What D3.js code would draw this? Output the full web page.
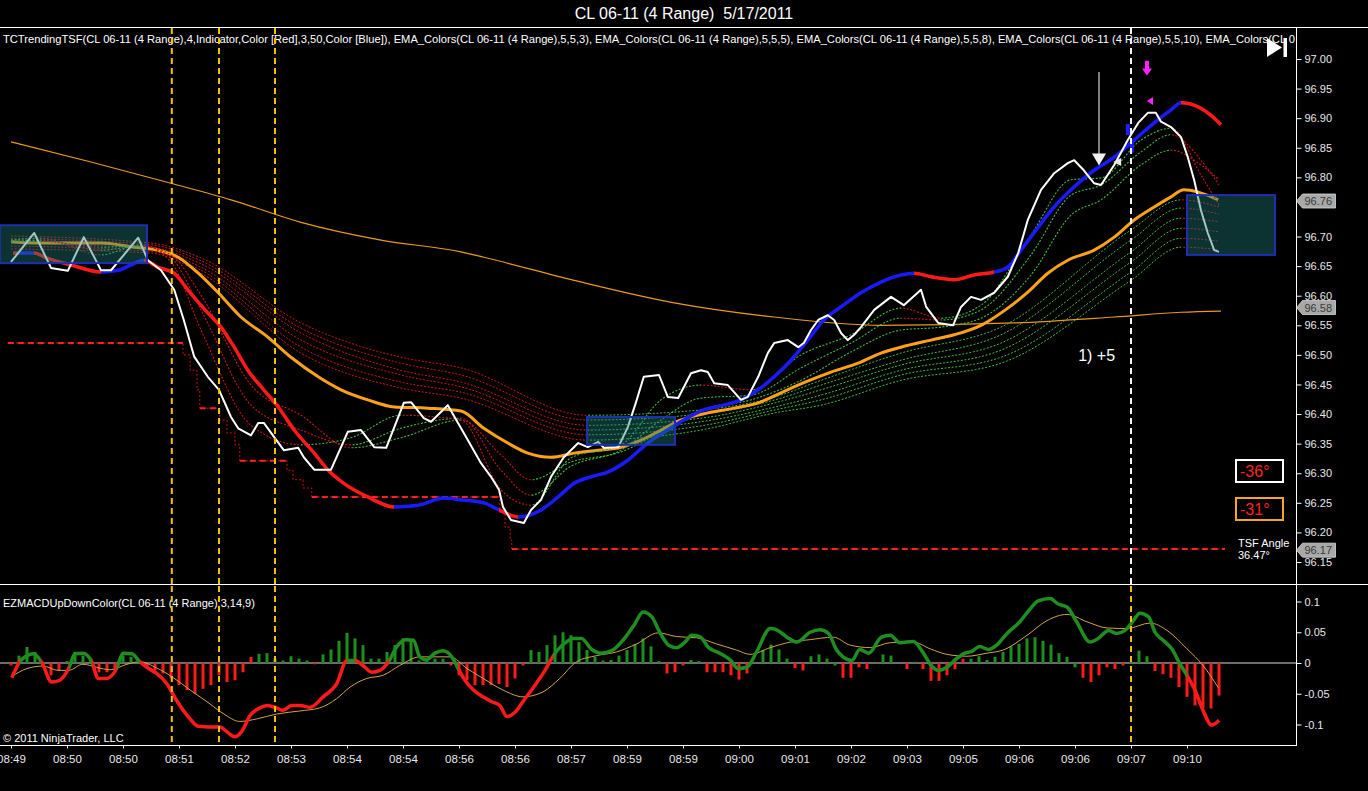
<!DOCTYPE html>
<html><head><meta charset="utf-8">
<script src="https://cdn.jsdelivr.net/npm/d3@7/dist/d3.min.js"></script>
<style>html,body{margin:0;padding:0;background:#000;overflow:hidden}text{font-family:"Liberation Sans",Arial,sans-serif}</style>
</head><body>
<svg id="c" width="1368" height="791"></svg>
<script>
// ---------------- DATA ----------------
const titleText = "CL 06-11 (4 Range)  5/17/2011";
const headerText = "TCTrendingTSF(CL 06-11 (4 Range),4,Indicator,Color [Red],3,50,Color [Blue]), EMA_Colors(CL 06-11 (4 Range),5,5,3), EMA_Colors(CL 06-11 (4 Range),5,5,5), EMA_Colors(CL 06-11 (4 Range),5,5,8), EMA_Colors(CL 06-11 (4 Range),5,5,10), EMA_Colors(CL 0";
const macdHeader = "EZMACDUpDownColor(CL 06-11 (4 Range),3,14,9)";
const copyright = "\u00a9 2011 NinjaTrader, LLC";
const timeLabels = ["08:49","08:50","08:50","08:51","08:52","08:53","08:54","08:54","08:56","08:56","08:57","08:59","08:59","09:00","09:01","09:02","09:03","09:05","09:06","09:06","09:07","09:10"];
const timeTickBars = [0,7,14,21,28,35,42,49,56,63,70,77,84,91,98,105,112,119,126,133,140,147];
const priceTicks = [97.00,96.95,96.90,96.85,96.80,96.75,96.70,96.65,96.60,96.55,96.50,96.45,96.40,96.35,96.30,96.25,96.20,96.15];
const macdTicks = [0.1,0.05,0,-0.05,-0.1];
const axisFlags = [96.76,96.58,96.17];

// close (white line): [bar, price]
const closeLine = [[0,96.657],[2.9,96.706],[5,96.647],[7.1,96.642],[9.1,96.699],[11.25,96.643],[12.5,96.643],[15.9,96.698],[17.1,96.660],[18.75,96.643],[20.4,96.610],[21.6,96.559],[22.9,96.497],[24.6,96.463],[26,96.441],[27.5,96.395],[28.4,96.376],[30,96.364],[30.9,96.385],[31.6,96.385],[32.9,96.361],[34.1,96.339],[35.9,96.343],[36.6,96.327],[37.9,96.306],[40,96.306],[42.1,96.370],[43.75,96.373],[45.4,96.344],[46.9,96.343],[49.1,96.419],[50,96.420],[51.6,96.393],[52.5,96.387],[54.6,96.415],[56.6,96.368],[58.75,96.317],[60,96.294],[61,96.272],[61.5,96.243],[62.5,96.221],[64.1,96.216],[65,96.238],[66.25,96.255],[67.5,96.294],[69.1,96.327],[70.9,96.351],[72.1,96.344],[73.4,96.353],[74.1,96.343],[75.9,96.344],[77.1,96.378],[78.1,96.419],[79.1,96.463],[81,96.466],[82.1,96.429],[83.4,96.427],[85,96.469],[86.25,96.474],[87.1,96.471],[87.9,96.452],[89.6,96.449],[91.25,96.424],[92.1,96.429],[93.4,96.463],[94.6,96.503],[95.4,96.520],[97.1,96.525],[98.4,96.513],[99.1,96.520],[100,96.542],[100.9,96.559],[102.1,96.567],[102.9,96.559],[103.75,96.537],[104.6,96.525],[105.4,96.534],[106.25,96.547],[107.9,96.576],[110,96.598],[111.6,96.584],[113.75,96.610],[114.4,96.581],[115.9,96.554],[117.75,96.550],[118.75,96.581],[120,96.598],[121.25,96.593],[122.9,96.605],[124.6,96.632],[125.9,96.672],[127.1,96.728],[128.75,96.779],[130.4,96.807],[132.1,96.824],[132.9,96.829],[134.1,96.812],[135.4,96.790],[136.25,96.787],[137.9,96.821],[139.6,96.863],[140.9,96.892],[142.1,96.909],[143.1,96.909],[143.75,96.894],[145,96.885],[146.25,96.868],[147.1,96.834],[147.9,96.795],[148.75,96.744],[149.6,96.706],[150.4,96.677],[151,96.674]];

// TSF line: [bar, price, state u=up(blue) d=down(red)]
const tsfLine = [[0.25,96.672,'d'],[1,96.672,'u'],[2.9,96.672,'d'],[4.4,96.664,'d'],[7.5,96.652,'d'],[11.25,96.640,'u'],[13.4,96.643,'u'],[15,96.652,'u'],[16.6,96.660,'d'],[18.4,96.648,'d'],[20.4,96.638,'d'],[22.1,96.610,'d'],[24.6,96.571,'d'],[26.25,96.547,'d'],[27.9,96.513,'d'],[29.6,96.474,'d'],[31.6,96.441,'d'],[33.4,96.412,'d'],[35.4,96.373,'d'],[37.9,96.334,'d'],[39.6,96.306,'d'],[41.6,96.283,'d'],[44.6,96.260,'d'],[47.9,96.243,'u'],[50.9,96.246,'u'],[54.1,96.258,'u'],[56.25,96.255,'u'],[59.1,96.250,'u'],[61,96.238,'d'],[63.4,96.226,'u'],[66.25,96.238,'u'],[68.4,96.260,'u'],[70.4,96.283,'u'],[72.5,96.294,'u'],[74.6,96.302,'u'],[77.1,96.322,'u'],[79.6,96.351,'u'],[82.1,96.373,'u'],[84.1,96.390,'u'],[86.6,96.407,'u'],[89.1,96.415,'u'],[91.25,96.424,'u'],[93.4,96.441,'u'],[95.4,96.463,'u'],[97.5,96.491,'u'],[99.6,96.525,'u'],[101.6,96.559,'u'],[103.75,96.581,'u'],[106.25,96.605,'u'],[108.75,96.623,'u'],[111.25,96.635,'u'],[112.9,96.638,'d'],[115,96.632,'d'],[117.9,96.627,'d'],[120.4,96.635,'d'],[122.9,96.640,'u'],[124.6,96.648,'u'],[126.25,96.677,'u'],[128.4,96.716,'u'],[130.4,96.750,'u'],[132.9,96.784,'u'],[135.4,96.812,'u'],[137.9,96.834,'u'],[140.4,96.863,'u'],[142.9,96.892,'u'],[145,96.914,'u'],[146.25,96.926,'d'],[148.4,96.919,'d'],[150.4,96.900,'d'],[151.25,96.889,'d']];

// thick orange EMA
const emaMain = [[0,96.691],[2.9,96.689],[7.1,96.689],[11.25,96.689],[15.4,96.682],[18.4,96.677],[20.9,96.665],[23.4,96.638],[25.9,96.605],[28.75,96.564],[32.1,96.530],[35,96.496],[38.4,96.463],[41.25,96.441],[44.6,96.424],[47.9,96.412],[52.1,96.410],[56.25,96.405],[59.1,96.376],[62.1,96.351],[64.6,96.334],[67.5,96.327],[70.4,96.334],[73.4,96.339],[76.25,96.344],[78.75,96.356],[81.25,96.373],[83.75,96.390],[87.1,96.402],[90.4,96.410],[93.4,96.419],[96.25,96.436],[99.1,96.453],[102.5,96.471],[105.9,96.486],[108.75,96.503],[111.25,96.513],[115,96.525],[117.9,96.534],[121.25,96.550],[124.6,96.579],[127.1,96.606],[129.6,96.638],[132.1,96.660],[135.4,96.677],[137.9,96.699],[140.4,96.728],[142.9,96.750],[145,96.767],[146.6,96.779],[148.4,96.775],[150.9,96.762]];

// thin orange long moving average
const smaLong = [[0,96.860],[10,96.826],[20,96.790],[27.5,96.762],[36.25,96.724],[46.25,96.694],[56.25,96.674],[59.1,96.665],[70.4,96.626],[82.9,96.588],[95.4,96.564],[108.75,96.550],[125.4,96.554],[137.9,96.564],[146.25,96.572],[151.25,96.574]];

// EMA ribbon (slow group)
const ribbonSlowBars = [0,17.5,23.75,36.25,48.75,56.25,72,86.25,95.5,101.25,111.25,123.75,140,146.25,151];
const ribbonSlow1 = [96.701,96.689,96.664,96.554,96.496,96.478,96.398,96.407,96.429,96.457,96.503,96.547,96.711,96.762,96.750];
const ribbonSlow2 = [96.697,96.686,96.659,96.545,96.486,96.466,96.390,96.400,96.424,96.449,96.491,96.534,96.694,96.748,96.738];
const ribbonSlow3 = [96.694,96.682,96.654,96.537,96.474,96.454,96.381,96.393,96.419,96.441,96.483,96.520,96.674,96.731,96.725];
const ribbonSlow4 = [96.689,96.679,96.648,96.525,96.466,96.446,96.373,96.387,96.412,96.432,96.474,96.508,96.657,96.714,96.708];
const ribbonSlow5 = [96.684,96.675,96.643,96.513,96.454,96.437,96.365,96.380,96.407,96.424,96.466,96.496,96.640,96.697,96.692];
const ribbonSlow6 = [96.679,96.672,96.638,96.503,96.444,96.427,96.356,96.373,96.402,96.415,96.457,96.486,96.626,96.682,96.678];
// EMA ribbon (fast group)
const ribbonFastBars = [0,3.75,11.25,16.25,20,23.75,30,36.25,42.5,48.75,56.25,61.25,65,70,76.25,81.25,86.25,92.5,98.75,105,111.25,116.25,121.25,127.5,132.5,136.25,141.25,145,148.75,151];
const ribbonFast1 = [96.694,96.697,96.669,96.686,96.657,96.542,96.381,96.348,96.360,96.398,96.390,96.272,96.246,96.326,96.348,96.424,96.449,96.441,96.500,96.534,96.579,96.562,96.584,96.703,96.796,96.799,96.863,96.883,96.804,96.753];
const ribbonFast2 = [96.691,96.694,96.677,96.684,96.664,96.576,96.415,96.373,96.348,96.376,96.393,96.305,96.263,96.312,96.339,96.390,96.427,96.432,96.478,96.520,96.562,96.559,96.576,96.669,96.770,96.787,96.843,96.872,96.829,96.787];
const ribbonFast3 = [96.691,96.692,96.682,96.684,96.669,96.601,96.449,96.398,96.343,96.360,96.390,96.331,96.289,96.319,96.336,96.370,96.407,96.424,96.457,96.505,96.542,96.547,96.562,96.635,96.736,96.762,96.821,96.846,96.821,96.796];

// trailing stop steps: [bar, price]
const stopSteps = [[-0.4,96.520],[21.5,96.500],[22.4,96.474],[23.25,96.441],[23.6,96.410],[26.1,96.390],[27,96.368],[28,96.348],[28.6,96.321],[34.5,96.305],[35.25,96.289],[36.5,96.275],[37.6,96.260],[61.1,96.234],[61.75,96.209],[62.4,96.187],[62.6,96.172],[151.75,96.172]];

// zone rectangles: [barStart, barEnd, priceTop, priceBottom]
const zones = [[-1.4,17,96.719,96.655],[72,83,96.395,96.348],[147,158,96.770,96.669]];
// vertical session markers: [bar, kind]
const vMarkers = [[20.1,'y'],[26,'y'],[33,'y'],[140,'w']];
// trade annotation
const tradeLabel = {bar:133.4, price:96.500, text:"1) +5"};
const signalArrow = {bar:136, top:96.978, tip:96.820};
const magentaArrow = {bar:142, top:96.997, tip:96.972};
const magentaTri = {bar:142.5, price:96.929};
const whiteTri = {bar:138.4, price:96.826};
const blueMarks = [[139.6,96.880],[140.1,96.850]];

// MACD line: [bar, value, color]
const macdLine = [[0.1,-0.024,'r'],[1.1,0.002,'g'],[2,0.012,'g'],[2.8,0.015,'g'],[3.8,0.002,'r'],[5.1,-0.031,'r'],[6.1,-0.028,'r'],[7.2,-0.009,'g'],[8,0.015,'g'],[9,0.016,'g'],[10.1,0.002,'r'],[10.9,-0.025,'r'],[12,-0.025,'r'],[13.2,-0.009,'g'],[14,0.016,'g'],[15.1,0.015,'g'],[16.1,0.002,'r'],[17.2,-0.009,'r'],[18.2,-0.017,'r'],[19.5,-0.034,'r'],[20.7,-0.061,'r'],[22.2,-0.088,'r'],[23.4,-0.103,'r'],[24.9,-0.104,'r'],[26.1,-0.104,'r'],[27,-0.112,'r'],[28,-0.120,'r'],[28.8,-0.112,'r'],[29.9,-0.085,'r'],[31.1,-0.073,'r'],[32,-0.069,'r'],[33.2,-0.073,'r'],[34,-0.077,'r'],[35.1,-0.069,'r'],[36.1,-0.069,'r'],[37.4,-0.072,'r'],[39,-0.055,'r'],[40.7,-0.034,'r'],[42,0.004,'g'],[43,0.004,'r'],[44,-0.004,'r'],[45.1,-0.015,'r'],[46.1,-0.012,'r'],[47.2,0.002,'g'],[48.2,0.026,'g'],[49.3,0.038,'g'],[50.3,0.037,'g'],[51.1,0.010,'g'],[51.9,0.005,'g'],[53,0.016,'g'],[54,0.020,'g'],[55.1,0.010,'g'],[55.9,-0.009,'r'],[56.75,-0.028,'r'],[57.8,-0.044,'r'],[59,-0.055,'r'],[60.1,-0.063,'r'],[61.1,-0.069,'r'],[62,-0.087,'r'],[63,-0.080,'r'],[64.25,-0.058,'r'],[65.5,-0.036,'r'],[66.75,-0.012,'r'],[67.8,0.012,'g'],[69,0.030,'g'],[70.3,0.040,'g'],[71.3,0.040,'g'],[72.6,0.022,'g'],[73.8,0.016,'g'],[75.1,0.020,'g'],[76.5,0.037,'g'],[78,0.064,'g'],[79,0.083,'g'],[80.1,0.075,'g'],[81.1,0.050,'g'],[82.2,0.029,'g'],[83.2,0.025,'g'],[84.25,0.034,'g'],[85.1,0.045,'g'],[86.1,0.043,'g'],[87.2,0.025,'g'],[88.6,0.016,'g'],[89.9,0.005,'g'],[90.9,-0.009,'g'],[92,-0.007,'g'],[93.2,0.018,'g'],[94.9,0.056,'g'],[95.7,0.054,'g'],[97,0.042,'g'],[98.2,0.034,'g'],[99.9,0.050,'g'],[101.1,0.054,'g'],[102.2,0.048,'g'],[103.2,0.021,'g'],[104,0.010,'g'],[105.1,0.004,'g'],[106.1,0.022,'g'],[107.2,0.016,'g'],[108.8,0.042,'g'],[109.9,0.045,'g'],[111.1,0.033,'g'],[112.8,0.035,'g'],[113.8,0.021,'g'],[115.1,-0.005,'g'],[115.9,-0.012,'g'],[117,-0.007,'g'],[118.2,0.007,'g'],[119.25,0.016,'g'],[120.1,0.019,'g'],[121.1,0.027,'g'],[122.2,0.022,'g'],[123.2,0.029,'g'],[124.5,0.048,'g'],[126.1,0.067,'g'],[127.4,0.088,'g'],[128.4,0.101,'g'],[129.9,0.105,'g'],[130.9,0.096,'g'],[132,0.091,'g'],[133.2,0.067,'g'],[134.9,0.034,'g'],[135.9,0.040,'g'],[137.2,0.053,'g'],[138.2,0.048,'g'],[139.25,0.053,'g'],[140.3,0.069,'g'],[141.1,0.081,'g'],[142.2,0.075,'g'],[143,0.050,'g'],[144,0.037,'g'],[145.1,0.023,'g'],[146.1,-0.001,'g'],[147,-0.020,'r'],[148,-0.044,'r'],[149,-0.077,'r'],[150.1,-0.101,'r'],[151,-0.093,'r']];
// signal line: [bar, value]
const signalLine = [[0.1,-0.022],[2,-0.009],[4,-0.005],[5.9,-0.012],[7.2,-0.012],[9,-0.002],[10.7,-0.007],[12.4,-0.011],[14.5,-0.002],[16.1,0.002],[18.2,-0.008],[20.3,-0.024],[22.4,-0.044],[24.5,-0.063],[26.5,-0.082],[28.6,-0.095],[30.7,-0.091],[33.2,-0.083],[36.1,-0.078],[38.6,-0.073],[40.7,-0.058],[42.4,-0.039],[44.5,-0.025],[46.5,-0.020],[48.6,-0.004],[51.1,0.010],[54.9,0.010],[57,-0.009],[59,-0.025],[61.5,-0.044],[64,-0.055],[66.5,-0.047],[68.6,-0.025],[70.7,0.002],[73.2,0.012],[75.7,0.018],[78.2,0.031],[80.9,0.049],[83.2,0.043],[85.7,0.041],[88.2,0.031],[90.7,0.021],[92.4,0.014],[94.9,0.025],[97.4,0.034],[99.9,0.038],[102.8,0.042],[104.9,0.029],[107.4,0.025],[109.9,0.033],[112.8,0.034],[114.9,0.023],[117,0.014],[119.5,0.011],[122,0.016],[124,0.021],[127,0.045],[129.5,0.069],[132,0.079],[134.5,0.067],[137,0.057],[139.5,0.056],[142.4,0.065],[144.5,0.053],[147,0.023],[149,-0.004],[150.9,-0.040]];
// histogram per bar
const histValues = [-0.004,0.012,0.026,0.018,-0.005,-0.020,-0.012,0.003,0.018,0.012, 0.007,-0.015,-0.015,-0.009,0.012,0.010,0.002,-0.007,-0.012,-0.017, -0.025,-0.036,-0.044,-0.050,-0.042,-0.036,-0.020,-0.031,-0.028,-0.015, 0.010,0.015,0.016,0.007,0.004,0.011,0.007,0.004,-0.002,0.014, 0.022,0.036,0.049,0.040,0.029,0.007,0.007,0.018,0.029,0.040, 0.037,0.004,0.003,0.007,0.007,-0.004,-0.020,-0.028,-0.036,-0.036, -0.036,-0.034,-0.039,-0.025,-0.004,0.021,0.018,0.029,0.045,0.050, 0.045,0.034,0.021,0.010,0.004,0.005,0.012,0.021,0.031,0.040, 0.027,0.003,-0.017,-0.015,-0.004,0.005,0.003,-0.015,-0.015,-0.015, -0.020,-0.027,-0.017,0.001,0.021,0.030,0.022,0.007,-0.008,-0.012, 0.011,0.014,0.007,-0.004,-0.024,-0.024,-0.007,-0.010,0.001,0.014, 0.012,0,-0.010,0.002,-0.010,-0.029,-0.029,-0.020,-0.010,0.007, 0.007,0.011,0.005,0.010,0.018,0.027,0.031,0.040,0.042,0.036, 0.030,0.016,0.010,-0.007,-0.024,-0.031,-0.020,-0.007,-0.010,-0.004, 0.001,0.020,0.011,-0.013,-0.018,-0.024,-0.039,-0.055,-0.069,-0.073, -0.074,-0.053];
const histColors = "rgggrrrggg"+"grrrgggrrr"+"rrrrrrrrrr"+"rgggggggrg"+"gggggggggg"+"gggggrrrrr"+"rrrrrggggg"+"gggggggggg"+"ggrrrggrrr"+"rrrgggggrr"+"ggggrrrrgg"+"ggrgrrrrrr"+"gggggggggg"+"ggggrrrrrr"+"gggrrrrrrr"+"rr";
const angleBoxes = [{text:"-36\u00b0", border:"#ffffff"},{text:"-31\u00b0", border:"#f5a623"}];
const tsfAngle = ["TSF Angle","36.47\u00b0"];

// ---------------- DRAW ----------------
const W=1368,H=791, AX=1296.5;
const svg=d3.select('#c');
svg.append('rect').attr('width',W).attr('height',H).attr('fill','#000');
const defs=svg.append('defs');
defs.append('clipPath').attr('id','clipMain').append('rect').attr('x',0).attr('y',28).attr('width',1296).attr('height',556);
defs.append('clipPath').attr('id','clipLow').append('rect').attr('x',0).attr('y',585).attr('width',1296).attr('height',160);
defs.append('clipPath').attr('id','clipHead').append('rect').attr('x',0).attr('y',28).attr('width',1297).attr('height',30);

const x=d3.scaleLinear().domain([0,151]).range([11,1219]);
const yP=d3.scaleLinear().domain([96.15,97.0]).range([562,59]);
const yM=d3.scaleLinear().domain([-0.1,0.1]).range([724.5,601.5]);

const RED="#ff1a1a", BLUE="#1a1aff", GREEN="#1e8f1e";
let gid=0;
function gradient(pts, colorOf){
  const id='g'+(gid++);
  const x0=x(pts[0][0]), x1=x(pts[pts.length-1][0]), w=x1-x0;
  const g=defs.append('linearGradient').attr('id',id).attr('gradientUnits','userSpaceOnUse')
    .attr('x1',x0).attr('x2',x1).attr('y1',0).attr('y2',0);
  for(let i=0;i<pts.length-1;i++){
    const c=colorOf(i);
    g.append('stop').attr('offset',(x(pts[i][0])-x0)/w).attr('stop-color',c);
    g.append('stop').attr('offset',(x(pts[i+1][0])-x0)/w).attr('stop-color',c);
  }
  return 'url(#'+id+')';
}

// frame lines
svg.append('text').attr('x',684).attr('y',19).attr('text-anchor','middle').attr('fill','#fff').attr('font-size',16).style('white-space','pre').text(titleText);
svg.append('line').attr('x1',0).attr('x2',W).attr('y1',27.5).attr('y2',27.5).attr('stroke','#fff');
svg.append('line').attr('x1',0).attr('x2',W).attr('y1',584.5).attr('y2',584.5).attr('stroke','#fff');
svg.append('line').attr('x1',0).attr('x2',AX).attr('y1',745.5).attr('y2',745.5).attr('stroke','#fff');
svg.append('line').attr('x1',AX).attr('x2',AX).attr('y1',28).attr('y2',746).attr('stroke','#fff');

// ---- main panel ----
const gm=svg.append('g').attr('clip-path','url(#clipMain)');
const lineP=d3.line().x(d=>x(d[0])).y(d=>yP(d[1]));

gm.append('path').datum(smaLong).attr('d',lineP.curve(d3.curveMonotoneX)).attr('fill','none').attr('stroke','#e89a1c').attr('stroke-width',1.2);

// stop
gm.append('path').datum(stopSteps).attr('d',d3.line().x(d=>x(d[0])).y(d=>yP(d[1])).curve(d3.curveStepAfter))
  .attr('fill','none').attr('stroke','#d01010').attr('stroke-width',1).attr('stroke-dasharray','2,2');
for(let i=0;i<stopSteps.length-1;i++){
  const a=stopSteps[i], b=stopSteps[i+1];
  if(b[0]-a[0]>=2) gm.append('line').attr('x1',x(a[0])).attr('x2',x(b[0])).attr('y1',yP(a[1])).attr('y2',yP(a[1]))
    .attr('stroke','#ff2020').attr('stroke-width',2).attr('stroke-dasharray','6,4');
}

// ribbons
function ribbon(bars, vals, w){
  const pts=bars.map((b,i)=>[b,vals[i]]);
  const stroke=gradient(pts,i=>pts[i+1][1]>=pts[i][1]?'#3cbc3c':'#c81616');
  gm.append('path').datum(pts).attr('d',d3.line().x(d=>x(d[0])).y(d=>yP(d[1])).curve(d3.curveMonotoneX))
    .attr('fill','none').attr('stroke',stroke).attr('stroke-width',w).attr('stroke-dasharray','2,1.6');
}
[ribbonSlow1,ribbonSlow2,ribbonSlow3,ribbonSlow4,ribbonSlow5,ribbonSlow6].forEach(v=>ribbon(ribbonSlowBars,v,1));
gm.append('path').datum(emaMain).attr('d',d3.line().x(d=>x(d[0])).y(d=>yP(d[1])).curve(d3.curveMonotoneX)).attr('fill','none').attr('stroke','#ffa21a').attr('stroke-width',3);
[ribbonFast3,ribbonFast2,ribbonFast1].forEach(v=>ribbon(ribbonFastBars,v,1.1));

// TSF
gm.append('path').datum(tsfLine).attr('d',d3.line().x(d=>x(d[0])).y(d=>yP(d[1])).curve(d3.curveMonotoneX))
  .attr('fill','none').attr('stroke',gradient(tsfLine,i=>tsfLine[i][2]==='u'?BLUE:RED)).attr('stroke-width',3.5).attr('stroke-linejoin','round');

// close
gm.append('path').datum(closeLine).attr('d',d3.line().x(d=>x(d[0])).y(d=>yP(d[1]))).attr('fill','none').attr('stroke','#fff').attr('stroke-width',2).attr('stroke-linejoin','round');

// zones
gm.selectAll('rect.zone').data(zones).join('rect').attr('class','zone')
  .attr('x',d=>x(d[0])).attr('y',d=>yP(d[2])).attr('width',d=>x(d[1])-x(d[0])).attr('height',d=>yP(d[3])-yP(d[2]))
  .attr('fill','#1c7878').attr('fill-opacity',0.42).attr('stroke','#1f2fb4').attr('stroke-width',2);

// markers
gm.append('line').attr('x1',x(signalArrow.bar)).attr('x2',x(signalArrow.bar)).attr('y1',yP(signalArrow.top)).attr('y2',yP(signalArrow.tip)-10).attr('stroke','#fff').attr('stroke-width',1);
{const cx=x(signalArrow.bar), ty=yP(signalArrow.tip);
 gm.append('path').attr('d',`M${cx-7},${ty-12}L${cx+7},${ty-12}L${cx},${ty}Z`).attr('fill','#f0f0f0');}
{const cx=x(whiteTri.bar), cy=yP(whiteTri.price);
 gm.append('path').attr('d',`M${cx-5},${cy}L${cx+3},${cy-4}L${cx+3},${cy+4}Z`).attr('fill','#e8e8e8');}
blueMarks.forEach(m=>{const cx=x(m[0]),cy=yP(m[1]);
 gm.append('rect').attr('x',cx-2).attr('y',cy-6).attr('width',4).attr('height',11).attr('fill','#2020ff');});
{const cx=x(magentaArrow.bar), t=yP(magentaArrow.top), b=yP(magentaArrow.tip);
 gm.append('rect').attr('x',cx-2).attr('y',t).attr('width',4).attr('height',b-t-6).attr('fill','#ff22ff');
 gm.append('path').attr('d',`M${cx-5},${b-7}L${cx+5},${b-7}L${cx},${b}Z`).attr('fill','#ff22ff');}
{const cx=x(magentaTri.bar), cy=yP(magentaTri.price);
 gm.append('path').attr('d',`M${cx-4},${cy}L${cx+2},${cy-4}L${cx+2},${cy+4}Z`).attr('fill','#ff22ff');}
gm.append('text').attr('x',x(tradeLabel.bar)).attr('y',yP(tradeLabel.price)+6).attr('fill','#fff').attr('font-size',16).text(tradeLabel.text);

// header text
svg.append('g').attr('clip-path','url(#clipHead)').append('text').attr('x',3).attr('y',43).attr('fill','#fff').attr('font-size',11.5)
  .attr('textLength',1292).attr('lengthAdjust','spacingAndGlyphs').text(headerText);
// play-to-end icon
svg.append('path').attr('d','M1267,38L1282,47.5L1267,57Z').attr('fill','#fff');
svg.append('rect').attr('x',1283.5).attr('y',38).attr('width',3.5).attr('height',19).attr('fill','#fff');

// angle boxes
angleBoxes.forEach((b,i)=>{
  const y0=460+i*38;
  svg.append('rect').attr('x',1236).attr('y',y0).attr('width',47).attr('height',22).attr('fill','#000').attr('stroke',b.border).attr('stroke-width',2);
  svg.append('text').attr('x',1240).attr('y',y0+17).attr('fill','#ff2020').attr('font-size',16).text(b.text);
});
svg.append('text').attr('x',1238).attr('y',547).attr('fill','#fff').attr('font-size',11).text(tsfAngle[0]);
svg.append('text').attr('x',1238).attr('y',559).attr('fill','#fff').attr('font-size',11).text(tsfAngle[1]);

// price axis (labels hidden under a value flag are left out, as in the reference)
const visibleTicks=priceTicks.filter(t=>!axisFlags.some(f=>Math.abs(yP(f)-yP(t))<9));
const pa=svg.append('g').attr('transform',`translate(${AX},0)`).call(d3.axisRight(yP).tickValues(visibleTicks).tickFormat(d3.format('.2f')).tickSize(5).tickPadding(3));
pa.select('.domain').remove();
pa.selectAll('line').attr('stroke','#fff');
pa.selectAll('text').attr('fill','#e8e8e8').attr('font-size',11).attr('font-family','"Liberation Sans",Arial,sans-serif');

axisFlags.forEach(v=>{
  const y=yP(v);
  svg.append('path').attr('d',`M${AX},${y}L${AX+6},${y-7}L${AX+39},${y-7}L${AX+39},${y+7}L${AX+6},${y+7}Z`).attr('fill','#a8a8a8').attr('stroke','#d8d8d8').attr('stroke-width',0.8);
  svg.append('text').attr('x',AX+8).attr('y',y+4).attr('fill','#3a3a3a').attr('font-size',11).text(v.toFixed(2));
});

// ---- lower panel ----
const gl=svg.append('g').attr('clip-path','url(#clipLow)');
gl.append('line').attr('x1',0).attr('x2',AX).attr('y1',yM(0)).attr('y2',yM(0)).attr('stroke','#d8d8d8').attr('stroke-width',1);
gl.selectAll('rect.h').data(histValues).join('rect').attr('class','h')
  .attr('x',(d,i)=>x(i)-1.5).attr('width',3)
  .attr('y',d=>Math.min(yM(d),yM(0))).attr('height',d=>Math.abs(yM(d)-yM(0)))
  .attr('fill',(d,i)=>histColors[i]==='g'?GREEN:RED);
gl.append('path').datum(signalLine).attr('d',d3.line().x(d=>x(d[0])).y(d=>yM(d[1])).curve(d3.curveMonotoneX)).attr('fill','none').attr('stroke','#d2a24a').attr('stroke-width',1);
gl.append('path').datum(macdLine).attr('d',d3.line().x(d=>x(d[0])).y(d=>yM(d[1])).curve(d3.curveMonotoneX))
  .attr('fill','none').attr('stroke',gradient(macdLine,i=>macdLine[i][2]==='g'?GREEN:RED)).attr('stroke-width',3.5).attr('stroke-linejoin','round');

svg.append('text').attr('x',3).attr('y',607).attr('fill','#fff').attr('font-size',11).text(macdHeader);
svg.append('text').attr('x',3).attr('y',742).attr('fill','#fff').attr('font-size',11).text(copyright);

const ma=svg.append('g').attr('transform',`translate(${AX},0)`).call(d3.axisRight(yM).tickValues(macdTicks).tickFormat(d=>d===0?'0':String(d)).tickSize(5).tickPadding(3));
ma.select('.domain').remove();
ma.selectAll('line').attr('stroke','#fff');
ma.selectAll('text').attr('fill','#e8e8e8').attr('font-size',11).attr('font-family','"Liberation Sans",Arial,sans-serif');

// vertical markers (both panels)
vMarkers.forEach(m=>{
  const xx=x(m[0]);
  svg.append('line').attr('x1',xx).attr('x2',xx).attr('y1',28).attr('y2',584).attr('stroke',m[1]==='w'?'#f4f4f4':'#f2c200').attr('stroke-width',2).attr('stroke-dasharray','6,4');
  svg.append('line').attr('x1',xx).attr('x2',xx).attr('y1',586).attr('y2',745).attr('stroke','#f2c200').attr('stroke-width',2).attr('stroke-dasharray','6,4');
});

// time axis
const ta=svg.append('g').attr('transform','translate(0,745.5)').call(d3.axisBottom(x).tickValues(timeTickBars).tickFormat((d,i)=>timeLabels[i]).tickSize(3).tickPadding(6));
ta.select('.domain').remove();
ta.selectAll('line').attr('stroke','#fff');
ta.selectAll('text').attr('fill','#e8e8e8').attr('font-size',11.5).attr('font-family','"Liberation Sans",Arial,sans-serif');
</script>
</body></html>
